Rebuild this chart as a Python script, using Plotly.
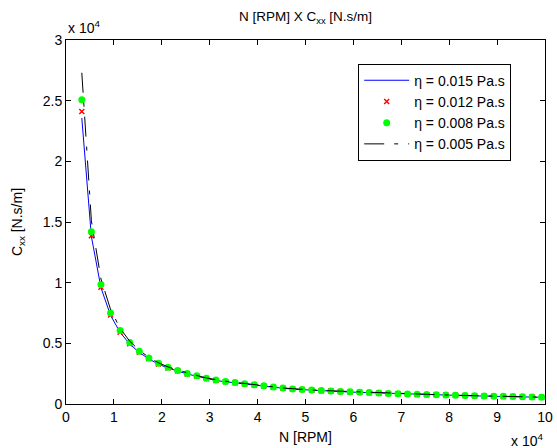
import plotly.graph_objects as go

# Rotation speed [RPM]
N_rpm = [3300, 5300, 7300, 9300, 11300, 13300, 15300, 17300, 19300, 21300,
         23300, 25300, 27300, 29300, 31300, 33300, 35300, 37300, 39300, 41300,
         43300, 45300, 47300, 49300, 51300, 53300, 55300, 57300, 59300, 61300,
         63300, 65300, 67300, 69300, 71300, 73300, 75300, 77300, 79300, 81300,
         83300, 85300, 87300, 89300, 91300, 93300, 95300, 97300, 99300]

# Damping coefficient Cxx [N.s/m] for each viscosity
cxx_015 = [23570, 13800, 9580, 7300, 5900, 4950, 4250, 3715, 3285, 2965,
           2725, 2475, 2290, 2095, 1940, 1830, 1752, 1645, 1565, 1478,
           1380, 1292, 1223, 1184, 1134, 1095, 1064, 1025, 986, 961,
           932, 892, 862, 838, 808, 788, 768, 749, 729, 709,
           689, 669, 650, 635, 620, 605, 590, 576, 551]
cxx_012 = [24100, 13870, 9620, 7330, 5920, 4960, 4260, 3720, 3290, 2970,
           2730, 2480, 2295, 2100, 1945, 1835, 1757, 1650, 1570, 1482,
           1384, 1296, 1227, 1188, 1138, 1099, 1068, 1029, 990, 965,
           936, 896, 866, 842, 812, 792, 772, 753, 733, 713,
           693, 673, 654, 639, 624, 609, 594, 580, 555]
cxx_008 = [25080, 14200, 9850, 7500, 6050, 5060, 4340, 3790, 3350, 3020,
           2770, 2520, 2330, 2130, 1970, 1860, 1780, 1670, 1590, 1500,
           1400, 1310, 1240, 1200, 1150, 1110, 1080, 1040, 1000, 975,
           945, 905, 875, 850, 820, 800, 780, 760, 740, 720,
           700, 680, 660, 645, 630, 615, 600, 585, 560]
cxx_005 = [27300, 15100, 10300, 7800, 6230, 5180, 4420, 3850, 3395, 3055,
           2800, 2545, 2350, 2148, 1985, 1873, 1792, 1681, 1600, 1509,
           1408, 1318, 1247, 1207, 1156, 1116, 1085, 1045, 1005, 979,
           949, 909, 879, 853, 823, 803, 783, 763, 743, 723,
           703, 683, 663, 648, 633, 618, 603, 588, 563]

legend_names = ["η = 0.015 Pa.s", "η = 0.012 Pa.s", "η = 0.008 Pa.s", "η = 0.005 Pa.s"]

x_tickvals = [0, 10000, 20000, 30000, 40000, 50000, 60000, 70000, 80000, 90000, 100000]
x_ticktext = ["0", "1", "2", "3", "4", "5", "6", "7", "8", "9", "10"]
y_tickvals = [0, 5000, 10000, 15000, 20000, 25000, 30000]
y_ticktext = ["0", "0.5", "1", "1.5", "2", "2.5", "3"]

FONT = "Liberation Sans, Arial, Helvetica, sans-serif"
FS = 14

fig = go.Figure()
fig.add_trace(go.Scatter(x=N_rpm, y=cxx_015, mode="lines", name=legend_names[0],
                         line=dict(color="#0000ff", width=1)))
fig.add_trace(go.Scatter(x=N_rpm, y=cxx_012, mode="markers", name=legend_names[1],
                         marker=dict(symbol="x-thin", size=5, color="#ff0000",
                                     line=dict(color="#ff0000", width=1.4))))
fig.add_trace(go.Scatter(x=N_rpm, y=cxx_008, mode="markers", name=legend_names[2],
                         marker=dict(symbol="circle", size=7, color="#00ff00",
                                     line=dict(width=0))))
fig.add_trace(go.Scatter(x=N_rpm, y=cxx_005, mode="lines", name=legend_names[3],
                         line=dict(color="#000000", width=1, dash="20px,10px,4px,10px")))

axis_common = dict(showgrid=False, zeroline=False, showline=True, linecolor="black",
                   linewidth=1, mirror="ticks", ticks="inside", ticklen=5,
                   tickcolor="black", automargin=False,
                   tickfont=dict(family=FONT, size=FS, color="black"))

fig.update_layout(
    width=557, height=448,
    margin=dict(l=66, r=12, t=40, b=44, autoexpand=False),
    paper_bgcolor="white", plot_bgcolor="white",
    font=dict(family=FONT, size=FS, color="black"),
    xaxis=dict(range=[0, 100000], tickvals=x_tickvals, ticktext=x_ticktext, **axis_common),
    yaxis=dict(range=[0, 30000], tickvals=y_tickvals, ticktext=y_ticktext, **axis_common),
    showlegend=True,
    legend=dict(x=0.61, y=0.935, xanchor="left", yanchor="top",
                bordercolor="black", borderwidth=1, bgcolor="white",
                font=dict(family=FONT, size=FS, color="black"),
                itemwidth=45, tracegroupgap=0),
    title=dict(text="N [RPM] X C<sub>xx</sub> [N.s/m]", x=0.5, xref="paper",
               y=1 - 16 / 448, yref="container", yanchor="middle",
               font=dict(family=FONT, size=13.5, color="black")),
    annotations=[
        dict(text="x 10<sup>4</sup>", xref="paper", yref="paper", x=0.0, y=1.005,
             xanchor="left", yanchor="bottom", showarrow=False,
             font=dict(family=FONT, size=FS)),
        dict(text="x 10<sup>4</sup>", xref="paper", yref="paper", x=1.0, y=-0.098,
             xanchor="right", yanchor="middle", showarrow=False,
             font=dict(family=FONT, size=FS)),
        dict(text="N [RPM]", xref="paper", yref="paper", x=0.5, y=-0.0895,
             xanchor="center", yanchor="middle", showarrow=False,
             font=dict(family=FONT, size=FS)),
        dict(text="C<sub>xx</sub> [N.s/m]", xref="paper", yref="paper", x=-0.1, y=0.5,
             xanchor="center", yanchor="middle", textangle=-90, showarrow=False,
             font=dict(family=FONT, size=FS)),
    ],
)

fig.write_html("out.html")
